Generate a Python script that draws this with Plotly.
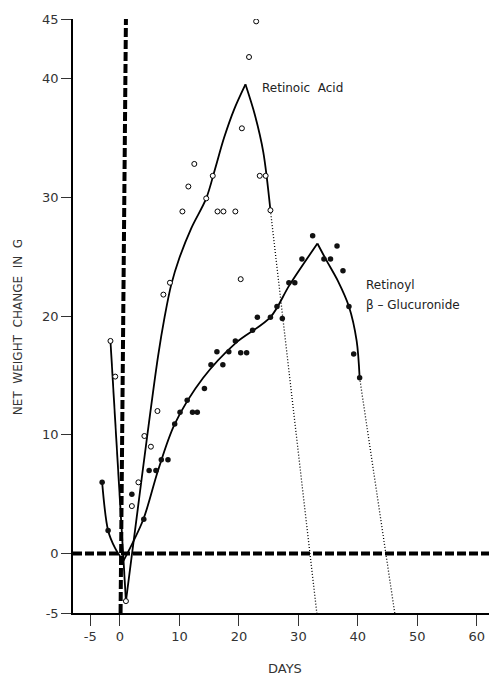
import plotly.graph_objects as go

# ---- data ----
ra_days = [-1.6, -0.8, 1.0, 2.0, 3.1, 4.1, 5.2, 6.3, 7.3, 8.4, 10.5, 11.5, 12.5, 14.5, 15.6,
           16.4, 17.4, 19.4, 20.3, 20.5, 21.7, 22.9, 23.5, 24.5, 25.3]
ra_vals = [17.9, 14.9, -4.0, 4.0, 6.0, 9.9, 9.0, 12.0, 21.8, 22.8, 28.8, 30.9, 32.8, 29.9, 31.8,
           28.8, 28.8, 28.8, 23.1, 35.8, 41.8, 44.8, 31.8, 31.8, 28.9]

gl_days = [-3.0, -2.0, 2.0, 4.0, 4.9, 6.05, 6.95, 8.07, 9.2, 10.1, 11.3, 12.2, 13.0, 14.2, 15.3,
           16.3, 17.3, 18.3, 19.4, 20.3, 21.3, 22.3, 23.1, 25.3, 26.4, 27.3, 28.4, 29.4, 30.6,
           32.4, 34.3, 35.4, 36.5, 37.5, 38.5, 39.3, 40.3]
gl_vals = [6.0, 1.95, 5.0, 2.9, 7.0, 7.0, 7.9, 7.9, 10.9, 11.9, 12.9, 11.9, 11.9, 13.9, 15.9,
           17.0, 15.9, 17.0, 17.9, 16.9, 16.9, 18.8, 19.9, 19.9, 20.8, 19.8, 22.8, 22.8, 24.8,
           26.75, 24.8, 24.8, 25.9, 23.8, 20.8, 16.8, 14.8]

# fitted curves (hand-drawn in the original)
ra_desc_x = [-1.6, 1.0]
ra_desc_y = [17.9, -4.0]
ra_rise_x = [1.0, 2.8, 4.5, 6.4, 7.5, 8.6, 10.0, 12.0, 14.5, 16.0, 17.5, 19.2, 21.1]
ra_rise_y = [-4.0, 3.0, 9.6, 16.6, 19.9, 22.6, 24.9, 27.4, 29.9, 32.4, 35.0, 37.4, 39.5]
ra_fall_x = [21.1, 22.7, 24.1, 25.3]
ra_fall_y = [39.5, 36.9, 33.8, 28.9]

gl_left_x = [-3.0, -2.0, -0.84, 0.56]
gl_left_y = [6.0, 1.95, 0.48, -0.64]
gl_rise_x = [0.56, 3.9, 6.4, 9.2, 14.0, 19.4, 25.3, 28.5, 33.2]
gl_rise_y = [-0.64, 2.85, 7.0, 10.9, 14.8, 17.7, 19.9, 22.6, 26.1]
gl_fall_x = [33.2, 34.7, 36.7, 38.5, 39.8, 40.3]
gl_fall_y = [26.1, 24.7, 22.9, 20.8, 17.9, 14.8]

ra_extrap_x = [25.3, 33.1]
ra_extrap_y = [28.9, -5.0]
gl_extrap_x = [40.3, 46.2]
gl_extrap_y = [14.8, -5.0]

zero_h_x = [-7.9, 63.4]
zero_h_y = [0, 0]
zero_v_x = [0.1, 1.0]
zero_v_y = [-5, 45]

x_ticks = [-5, 0, 10, 20, 30, 40, 50, 60]
y_ticks = [-5, 0, 10, 20, 30, 40, 45]

fig = go.Figure()

dash_style = dict(color="black", width=4, dash="9px,3px")
fig.add_trace(go.Scatter(x=zero_h_x, y=zero_h_y, mode="lines", line=dash_style, hoverinfo="skip"))
fig.add_trace(go.Scatter(x=zero_v_x, y=zero_v_y, mode="lines", line=dash_style, hoverinfo="skip"))

dot_style = dict(color="black", width=1.3, dash="1px,2px")
fig.add_trace(go.Scatter(x=ra_extrap_x, y=ra_extrap_y, mode="lines", line=dot_style))
fig.add_trace(go.Scatter(x=gl_extrap_x, y=gl_extrap_y, mode="lines", line=dot_style))

fig.add_trace(go.Scatter(x=ra_desc_x, y=ra_desc_y, mode="lines",
                         line=dict(color="black", width=1.8)))
for cx, cy in [(ra_rise_x, ra_rise_y), (ra_fall_x, ra_fall_y),
               (gl_left_x, gl_left_y), (gl_rise_x, gl_rise_y), (gl_fall_x, gl_fall_y)]:
    fig.add_trace(go.Scatter(x=cx, y=cy, mode="lines",
                             line=dict(color="black", width=1.8, shape="spline", smoothing=0.9)))

fig.add_trace(go.Scatter(x=ra_days, y=ra_vals, mode="markers", name="Retinoic Acid",
                         marker=dict(symbol="circle", size=5, color="white",
                                     line=dict(color="black", width=1))))
fig.add_trace(go.Scatter(x=gl_days, y=gl_vals, mode="markers", name="Retinoyl β-Glucuronide",
                         marker=dict(symbol="circle", size=5.5, color="#111111",
                                     line=dict(color="#111111", width=0))))

ann_font = dict(family="DejaVu Sans", size=12, color="#222222")
fig.add_annotation(x=23.5, y=39.2, text="Retinoic  Acid", showarrow=False,
                   xanchor="left", yanchor="middle", font=ann_font)
fig.add_annotation(x=41.0, y=22.6, text="Retinoyl", showarrow=False,
                   xanchor="left", yanchor="middle", font=ann_font)
fig.add_annotation(x=41.0, y=20.9, text="β – Glucuronide", showarrow=False,
                   xanchor="left", yanchor="middle", font=ann_font)
fig.add_annotation(xref="paper", yref="paper", x=-0.13, y=0.481,
                   text="NET  WEIGHT  CHANGE  IN  G", textangle=-90, showarrow=False,
                   xanchor="center", yanchor="middle",
                   font=dict(family="DejaVu Sans", size=12, color="#333333"))
fig.add_annotation(xref="paper", yref="paper", x=0.5, y=-0.093, text="DAYS",
                   showarrow=False, xanchor="center", yanchor="middle",
                   font=dict(family="DejaVu Sans", size=13, color="#333333"))

tick_font = dict(family="DejaVu Sans", size=13, color="#333333")
fig.update_xaxes(range=[-7.9, 63.4], tickvals=x_ticks, ticktext=[str(v) for v in x_ticks],
                 showline=True, linecolor="black", linewidth=1.5, automargin=False,
                 ticks="outside", ticklen=11, tickwidth=1, tickcolor="#333333",
                 showgrid=False, zeroline=False, tickfont=tick_font)
fig.update_yaxes(range=[-5, 45], tickvals=y_ticks, ticktext=[str(v) for v in y_ticks],
                 showline=True, linecolor="black", linewidth=1.5, automargin=False,
                 ticks="outside", ticklen=10, tickwidth=1, tickcolor="#333333",
                 showgrid=False, zeroline=False, tickfont=tick_font)

# the page body adds an 8px margin, so the figure is sized/offset to compensate
fig.update_layout(width=489, height=667, showlegend=False,
                  margin=dict(l=65, r=0, t=11, b=62),
                  plot_bgcolor="white", paper_bgcolor="white")

fig.write_html("out.html")
